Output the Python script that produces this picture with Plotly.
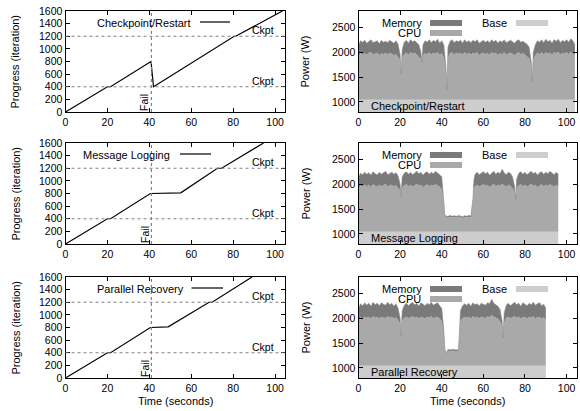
import plotly.graph_objects as go

W, H = 580, 411
def px(x): return x / W
def py(y): return 1 - y / H

FONT = "Liberation Sans, Arial, Helvetica, sans-serif"

# ---------------- progress data ----------------
CR_PT = [0, 20, 21.5, 40.8, 42, 80.5, 81.2, 103.5]
CR_PV = [0, 400, 400, 800, 400, 1200, 1200, 1600]
ML_PT = [0, 20, 21.5, 40.5, 55, 72.5, 74.5, 94.5]
ML_PV = [0, 400, 400, 800, 810, 1200, 1200, 1600]
PR_PT = [0, 20, 21.5, 40.5, 49, 68.5, 70, 89]
PR_PV = [0, 400, 400, 800, 810, 1200, 1200, 1600]
CKPT_LEVELS = [400, 1200]
FAIL_TIME = 41

# ---------------- power data ----------------
BASE_LEVEL = 1040

CR_T = (list(range(0, 20)) + [20, 20.5, 21] + list(range(22, 30)) + [30, 30.5, 31]
        + list(range(32, 42)) + [42, 42.5, 43] + list(range(44, 83)) + [83, 83.5, 84]
        + list(range(85, 105)))
CR_MEM = [2150, 2230, 2200, 2240, 2180, 2220, 2250, 2190, 2210, 2230, 2170, 2240, 2200, 2220, 2190, 2240, 2210, 2180, 2230, 2160,
          1950, 1550, 2050,
          2200, 2240, 2180, 2250, 2210, 2230, 2190, 2150,
          2000, 1780, 2150,
          2230, 2200, 2250, 2190, 2240, 2210, 2260, 2180, 2230, 2150,
          1700, 1250, 2100,
          2220, 2250, 2190, 2230, 2210, 2240, 2180, 2250, 2200, 2230, 2190, 2240, 2210, 2250, 2180, 2220, 2240, 2200, 2230, 2190,
          2250, 2210, 2240, 2180, 2230, 2200, 2250, 2190, 2220, 2240, 2210, 2180, 2230, 2250, 2200, 2220, 2190, 2160, 2100,
          1800, 1400, 2000,
          2150, 2230, 2200, 2250, 2190, 2260, 2210, 2240, 2180, 2250, 2220, 2260, 2190, 2240, 2210, 2250, 2200, 2270, 2230, 2150]
CR_CPU = [1900, 1990, 1960, 1980, 1950, 1990, 2000, 1960, 1970, 1990, 1940, 1980, 1960, 1990, 1950, 1990, 1970, 1940, 1960, 1900,
          1850, 1500, 1900,
          1960, 1990, 1950, 2000, 1970, 1990, 1950, 1900,
          1880, 1750, 1940,
          1980, 1960, 2000, 1950, 1990, 1970, 2000, 1950, 1980, 1900,
          1650, 1230, 1900,
          1980, 2000, 1950, 1990, 1970, 1990, 1950, 2000, 1960, 1990, 1950, 1990, 1970, 2000, 1940, 1980, 1990, 1960, 1980, 1950,
          2000, 1970, 1990, 1940, 1980, 1960, 2000, 1950, 1980, 1990, 1970, 1940, 1980, 2000, 1960, 1980, 1950, 1920, 1880,
          1720, 1380, 1850,
          1940, 1990, 1960, 2000, 1950, 2000, 1970, 1990, 1950, 2000, 1980, 2010, 1950, 1990, 1970, 2000, 1960, 2010, 1980, 1940]

ML_T = (list(range(0, 20)) + [20, 20.5, 21] + list(range(22, 41)) + [41, 41.5]
        + list(range(42, 55)) + [55, 55.5] + list(range(56, 75)) + [75, 75.5, 76]
        + list(range(77, 97)))
ML_MEM = [2150, 2220, 2190, 2240, 2200, 2230, 2180, 2250, 2210, 2190, 2240, 2200, 2230, 2260, 2190, 2220, 2240, 2200, 2230, 2170,
          2000, 1750, 2150,
          2220, 2250, 2200, 2240, 2190, 2230, 2260, 2210, 2240, 2180, 2230, 2250, 2200, 2240, 2210, 2260, 2230, 2190, 2150,
          1700, 1380,
          1360, 1350, 1370, 1355, 1365, 1350, 1370, 1360, 1345, 1365, 1355, 1370, 1360,
          1700, 2100,
          2200, 2240, 2190, 2230, 2250, 2210, 2240, 2180, 2230, 2260, 2200, 2240, 2210, 2300, 2230, 2190, 2240, 2220, 2150,
          1950, 1700, 2100,
          2220, 2250, 2200, 2240, 2190, 2230, 2260, 2210, 2240, 2180, 2230, 2250, 2200, 2240, 2210, 2260, 2230, 2190, 2240, 2200]
ML_CPU = [1900, 1980, 1950, 1990, 1960, 1990, 1940, 2000, 1970, 1950, 1990, 1960, 1980, 2010, 1950, 1980, 1990, 1960, 1980, 1920,
          1880, 1720, 1930,
          1980, 2000, 1960, 1990, 1950, 1980, 2010, 1970, 1990, 1940, 1980, 2000, 1960, 1990, 1970, 2000, 1980, 1950, 1900,
          1650, 1360,
          1335, 1325, 1340, 1330, 1340, 1325, 1345, 1335, 1320, 1340, 1330, 1345, 1335,
          1650, 1900,
          1960, 1990, 1950, 1980, 2000, 1970, 1990, 1940, 1980, 2010, 1960, 1990, 1970, 2010, 1980, 1950, 1990, 1970, 1920,
          1850, 1650, 1920,
          1980, 2000, 1960, 1990, 1950, 1980, 2010, 1970, 1990, 1940, 1980, 2000, 1960, 1990, 1970, 2000, 1980, 1950, 1990, 1960]

PR_T = (list(range(0, 20)) + [20, 20.5, 21] + list(range(22, 41)) + [41, 41.5, 42]
        + list(range(43, 49)) + [48.5, 49] + list(range(50, 69)) + [69, 69.5, 70]
        + list(range(71, 91)))
PR_MEM = [2200, 2290, 2250, 2310, 2260, 2300, 2240, 2320, 2270, 2300, 2250, 2310, 2280, 2260, 2320, 2270, 2300, 2240, 2290, 2200,
          2000, 1650, 2150,
          2260, 2300, 2250, 2290, 2320, 2270, 2300, 2240, 2310, 2280, 2250, 2300, 2270, 2320, 2260, 2290, 2310, 2250, 2200,
          1750, 1380, 1290,
          1370, 1360, 1375, 1365, 1370, 1360,
          1700, 2150,
          2250, 2290, 2260, 2300, 2240, 2310, 2270, 2290, 2250, 2300, 2280, 2260, 2310, 2290, 2380, 2300, 2270, 2240, 2180,
          1950, 1600, 2100,
          2260, 2300, 2250, 2290, 2320, 2270, 2300, 2240, 2310, 2280, 2250, 2300, 2270, 2320, 2260, 2290, 2310, 2250, 2280, 2200]
PR_CPU = [1950, 2020, 2000, 2030, 2010, 2030, 1990, 2040, 2010, 2030, 1990, 2030, 2020, 2000, 2040, 2010, 2030, 1990, 2020, 1950,
          1900, 1620, 1950,
          2010, 2030, 2000, 2020, 2040, 2010, 2030, 1990, 2030, 2020, 1990, 2030, 2010, 2040, 2000, 2020, 2030, 1990, 1950,
          1700, 1360, 1270,
          1345, 1335, 1350, 1340, 1345, 1335,
          1650, 1950,
          2000, 2030, 2010, 2030, 1990, 2040, 2010, 2030, 2000, 2030, 2020, 2000, 2040, 2020, 2060, 2030, 2010, 1990, 1940,
          1850, 1560, 1920,
          2010, 2030, 2000, 2020, 2040, 2010, 2030, 1990, 2030, 2020, 1990, 2030, 2010, 2040, 2000, 2020, 2030, 1990, 2020, 1960]

NAMES = ["Checkpoint/Restart", "Message Logging", "Parallel Recovery"]
PROGRESS = [(CR_PT, CR_PV), (ML_PT, ML_PV), (PR_PT, PR_PV)]
POWER = [(CR_T, CR_CPU, CR_MEM), (ML_T, ML_CPU, ML_MEM), (PR_T, PR_CPU, PR_MEM)]

X_TICKS = [0, 20, 40, 60, 80, 100]
P_TICKS = [0, 200, 400, 600, 800, 1000, 1200, 1400, 1600]
W_TICKS = [1000, 1500, 2000, 2500]

C_MEM = "#7a7a7a"
C_CPU = "#a9a9a9"
C_BASE = "#cdcdcd"

ROWS = [(11, 112), (143, 244), (277, 378)]
LEFT = (65.5, 284.5)
RIGHT = (358.5, 577)

fig = go.Figure()
layout = dict(width=W, height=H, margin=dict(l=0, r=0, t=0, b=0),
              paper_bgcolor="white", plot_bgcolor="white", showlegend=False,
              font=dict(family=FONT, size=11, color="black"))
shapes, annots = [], []

def axis_common():
    return dict(ticks="inside", ticklen=4, tickwidth=1, tickcolor="black", mirror="ticks",
                showline=True, linecolor="black", linewidth=1, showgrid=False,
                zeroline=False, automargin=False, tickfont=dict(size=10.5, family=FONT))

def ref(letter, n):
    return letter if n == 1 else f"{letter}{n}"

legend_text_right = [193.5, 172, 185.5]
legend_line = [(200, 230), (180, 211), (191.5, 223)]

for i in range(3):
    top, bot = ROWS[i]
    ydom = [py(bot), py(top)]
    a = 2 * i + 1
    b = 2 * i + 2
    xa, ya = ref("x", a), ref("y", a)
    xb, yb = ref("x", b), ref("y", b)
    # progress panel
    t, v = PROGRESS[i]
    fig.add_trace(go.Scatter(x=t, y=v, mode="lines", line=dict(color="black", width=1.2),
                             xaxis=xa, yaxis=ya))
    layout[f"xaxis{a}"] = dict(domain=[px(LEFT[0]), px(LEFT[1])], anchor=ya, range=[0, 104.5],
                               tickvals=X_TICKS, **axis_common())
    layout[f"yaxis{a}"] = dict(domain=ydom, anchor=xa, range=[0, 1600], tickvals=P_TICKS,
                               **axis_common())
    for lv in CKPT_LEVELS:
        shapes.append(dict(type="line", xref=f"{xa} domain", yref=ya, x0=0, x1=1, y0=lv, y1=lv,
                           line=dict(color="#808080", width=1.2, dash="dot")))
        annots.append(dict(xref=xa, yref=ya, x=94, y=lv, text="Ckpt", showarrow=False,
                           xanchor="center", yanchor="bottom", yshift=-2,
                           font=dict(size=10.5)))
    shapes.append(dict(type="line", xref=xa, yref=f"{ya} domain", x0=FAIL_TIME, x1=FAIL_TIME,
                       y0=0, y1=1, line=dict(color="#808080", width=1.2, dash="dot")))
    annots.append(dict(xref=xa, yref=ya, x=FAIL_TIME, y=0, text="Fail", showarrow=False,
                       textangle=-90, xanchor="right", yanchor="bottom", xshift=1, yshift=-1,
                       font=dict(size=10.5)))
    # legend of progress panel
    annots.append(dict(xref="paper", yref="paper", x=px(legend_text_right[i]), y=py(top + 12),
                       text=NAMES[i], showarrow=False, xanchor="right", yanchor="middle",
                       font=dict(size=11)))
    shapes.append(dict(type="line", xref="paper", yref="paper", x0=px(legend_line[i][0]),
                       x1=px(legend_line[i][1]), y0=py(top + 11), y1=py(top + 11),
                       line=dict(color="black", width=1.2)))
    # power panel
    tt, cpu, mem = POWER[i]
    fig.add_trace(go.Scatter(x=tt, y=[BASE_LEVEL] * len(tt), mode="lines", line=dict(width=0),
                             fill="tozeroy", fillcolor=C_BASE, xaxis=xb, yaxis=yb))
    fig.add_trace(go.Scatter(x=tt, y=cpu, mode="lines", line=dict(width=0),
                             fill="tonexty", fillcolor=C_CPU, xaxis=xb, yaxis=yb))
    fig.add_trace(go.Scatter(x=tt, y=mem, mode="lines", line=dict(width=0.6, color="#8a8a8a"),
                             fill="tonexty", fillcolor=C_MEM, xaxis=xb, yaxis=yb))
    layout[f"xaxis{b}"] = dict(domain=[px(RIGHT[0]), px(RIGHT[1])], anchor=yb, range=[0, 105],
                               tickvals=X_TICKS, **axis_common())
    layout[f"yaxis{b}"] = dict(domain=ydom, anchor=xb, range=[795, 2830], tickvals=W_TICKS,
                               **axis_common())
    # power legend
    for label, col, xr, sx0, sx1, dy in [("Memory", C_MEM, 423.5, 430, 462, 12),
                                         ("CPU", C_CPU, 423, 430, 462, 22),
                                         ("Base", C_BASE, 509, 516, 548, 12)]:
        annots.append(dict(xref="paper", yref="paper", x=px(xr), y=py(top + dy), text=label,
                           showarrow=False, xanchor="right", yanchor="middle",
                           font=dict(size=11)))
        shapes.append(dict(type="rect", xref="paper", yref="paper", x0=px(sx0), x1=px(sx1),
                           y0=py(top + dy + 3), y1=py(top + dy - 3), fillcolor=col,
                           line=dict(width=0)))
    annots.append(dict(xref="paper", yref="paper", x=px(369), y=py(bot - 6), text=NAMES[i],
                       showarrow=False, xanchor="left", yanchor="middle", font=dict(size=11)))
    # axis titles
    annots.append(dict(xref="paper", yref="paper", x=px(15), y=py((top + bot) / 2),
                       text="Progress (iteration)", showarrow=False, textangle=-90,
                       xanchor="center", yanchor="middle", font=dict(size=11)))
    annots.append(dict(xref="paper", yref="paper", x=px(305), y=py((top + bot) / 2),
                       text="Power (W)", showarrow=False, textangle=-90,
                       xanchor="center", yanchor="middle", font=dict(size=11)))

annots.append(dict(xref="paper", yref="paper", x=px(175), y=py(401), text="Time (seconds)",
                   showarrow=False, xanchor="center", yanchor="middle", font=dict(size=11)))
annots.append(dict(xref="paper", yref="paper", x=px(468), y=py(401), text="Time (seconds)",
                   showarrow=False, xanchor="center", yanchor="middle", font=dict(size=11)))

layout["shapes"] = shapes
layout["annotations"] = annots
fig.update_layout(**layout)
fig.write_html("out.html", config={"displayModeBar": False},
               post_script="document.body.style.margin='0';document.body.style.padding='0';"
                           "document.body.style.overflow='hidden';")
